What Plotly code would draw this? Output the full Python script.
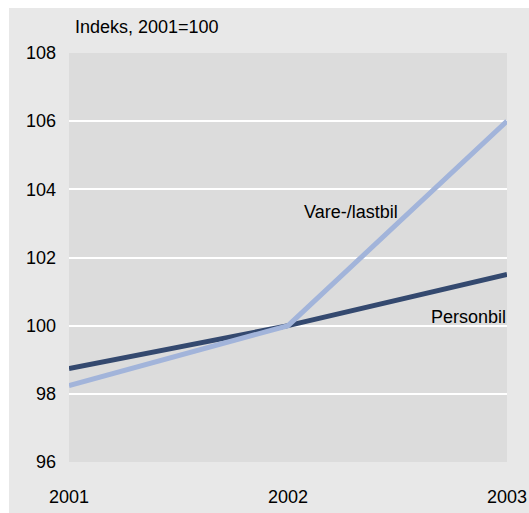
import plotly.graph_objects as go

years = [2001, 2002, 2003]
personbil = [98.74, 100.0, 101.5]
varebil = [98.24, 100.0, 106.0]
y_ticks = [96, 98, 100, 102, 104, 106, 108]

DARK = "#34496f"
LIGHT = "#a2b4da"
FONT = "Liberation Sans"

fig = go.Figure()
fig.add_trace(go.Scatter(x=years, y=personbil, mode="lines", name="Personbil",
                         line=dict(color=DARK, width=5)))
fig.add_trace(go.Scatter(x=years, y=varebil, mode="lines", name="Vare-/lastbil",
                         line=dict(color=LIGHT, width=5)))

# outer grey panel (white strip top/left) and the grey plot area under the gridlines
fig.add_shape(type="rect", xref="paper", yref="paper", x0=-0.137, x1=1.1, y0=-0.125, y1=1.11,
              fillcolor="#e8e8e8", line_width=0, layer="below")
fig.add_shape(type="rect", xref="x", yref="y", x0=2001, x1=2003, y0=96, y1=108,
              fillcolor="#dcdcdc", line_width=0, layer="below")

fig.add_annotation(text="Indeks, 2001=100", xref="paper", yref="paper", x=0.009, y=1.064,
                   xanchor="left", yanchor="middle", showarrow=False)
fig.add_annotation(text="Vare-/lastbil", x=2002.288, y=103.34, showarrow=False)
fig.add_annotation(text="Personbil", x=2002.826, y=100.26, showarrow=False)

fig.update_layout(
    width=529, height=513,
    margin=dict(l=69, r=22, t=53, b=51),
    paper_bgcolor="white",
    plot_bgcolor="rgba(0,0,0,0)",
    showlegend=False,
    font=dict(family=FONT, size=18, color="#000000"),
)
fig.update_xaxes(range=[2001, 2003], tickvals=years, showgrid=False, zeroline=False,
                 showline=False, ticklabelstandoff=22, automargin=False)
fig.update_yaxes(range=[96, 108], tickvals=y_ticks, showgrid=True, gridcolor="white",
                 gridwidth=2, zeroline=False, showline=False, ticklabelstandoff=12,
                 automargin=False)

# drop the default body margin so the figure fills the window exactly
fig.write_html("out.html", config={"displayModeBar": False},
               post_script="document.body.style.margin = '0';")
